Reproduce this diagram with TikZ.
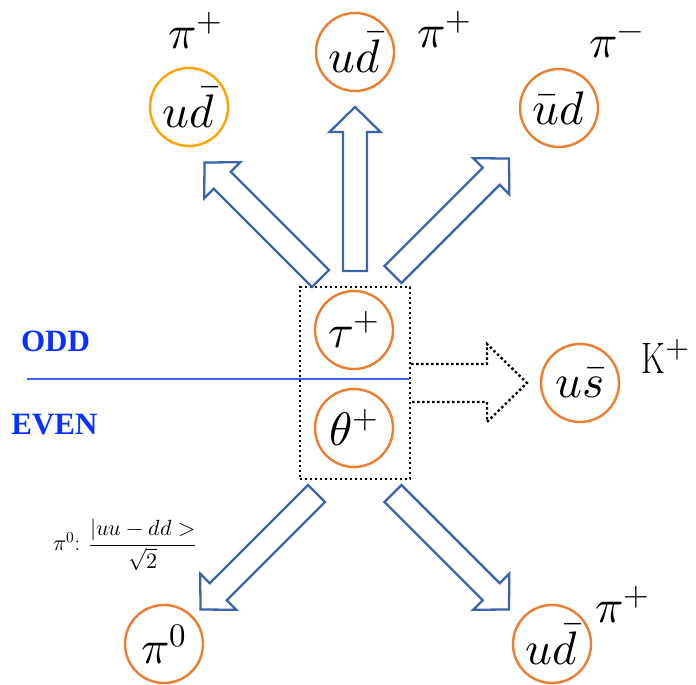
\documentclass[tikz,border=0pt]{standalone}
\usepackage{fontspec}
\usepackage{unicode-math}
\setmathfont{Latin Modern Math}
\newfontfamily\tnr{Liberation Serif}
\definecolor{porange}{RGB}{237,125,49}
\definecolor{pyellow}{RGB}{255,163,0}
\definecolor{ablue}{RGB}{60,100,170}
\definecolor{lblue}{RGB}{60,100,240}
\definecolor{tblue}{RGB}{10,50,255}
\newcommand\blockarrow[4]{%
  \coordinate (#4) at (#1,#2);
  \draw[barrow, shift={(#4)}, rotate=#3] (0,-12) -- (139,-12) -- (139,-25.5) -- (164,0) -- (139,25.5) -- (139,12) -- (0,12) -- cycle;}
\begin{document}
\begin{tikzpicture}[x=1pt,y=1pt,
  particle/.style={circle, draw=porange, line width=2.4pt, minimum size=78pt, inner sep=0pt,
    font=\fontsize{47}{50}\selectfont},
  plabel/.style={inner sep=0pt, font=\fontsize{47}{50}\selectfont},
  barrow/.style={draw=ablue, line width=2.3pt, line join=miter, fill=white},
  dotbox/.style={draw=black, line width=2.4pt, dash pattern=on 2.4pt off 2.6pt},
  bline/.style={draw=lblue, line width=1.3pt},
  paritytext/.style={inner sep=0pt, text=tblue, font=\tnr\bfseries\fontsize{31}{33}\selectfont}
]
\useasboundingbox (0,0) rectangle (696,-685);

% parity line and labels
\node[paritytext] (odd) at (55.5,-341.5) {ODD};
\node[paritytext] (even) at (54.5,-424.5) {EVEN};
\coordinate (linestart) at (27,-379);
\coordinate (lineend) at (409,-379);
\draw[bline] (linestart) -- (lineend);

% central particles
\node[particle] (tau) at (354,-330) {$\tau^{+}$};
\node[particle] (theta) at (354,-428) {$\theta^{+}$};
\node[dotbox, minimum width=110pt, minimum height=192pt, inner sep=0pt] (box) at (355,-383) {};

% dotted arrow to kaon
\draw[dotbox] (box.east |- 0,-364) -- (487,-364) -- (487,-344) -- (527,-383) -- (487,-422) -- (487,-402) -- (box.east |- 0,-402);

% block arrows
\blockarrow{355}{-271}{90}{aup}
\blockarrow{320.5}{-278.5}{135}{aul}
\blockarrow{393}{-274.5}{45}{aur}
\blockarrow{316.5}{-493.5}{225}{adl}
\blockarrow{393}{-493.5}{-45}{adr}

% outer particles
\node[particle, draw=pyellow] (tl) at (189,-107) {$u\bar{d}$};
\node[plabel] (tllab) at (196,-31) {$\pi^{+}$};

\node[particle] (tc) at (355,-52) {$u\bar{d}$};
\node[plabel] (tclab) at (445,-30) {$\pi^{+}$};

\node[particle] (tr) at (559,-108) {$\bar{u}d$};
\node[plabel] (trlab) at (617,-45) {$\pi^{-}$};

\node[particle] (kaon) at (580,-383) {$u\bar{s}$};
\node[inner sep=0pt, font=\fontsize{44}{48}\selectfont] (klab) at (666,-357) {\scalebox{0.75}[1]{K}$^{+}$};

\node[particle] (pizero) at (164,-644) {$\pi^{0}$};
\node[inner sep=0pt, font=\fontsize{22}{24}\selectfont] (pi0f) at (125,-545) {$\pi^{0}$: $\dfrac{|uu-dd>}{\sqrt{2}}$};

\node[particle] (br) at (552,-644) {$u\bar{d}$};
\node[plabel] (brlab) at (623,-605) {$\pi^{+}$};
\end{tikzpicture}
\end{document}
